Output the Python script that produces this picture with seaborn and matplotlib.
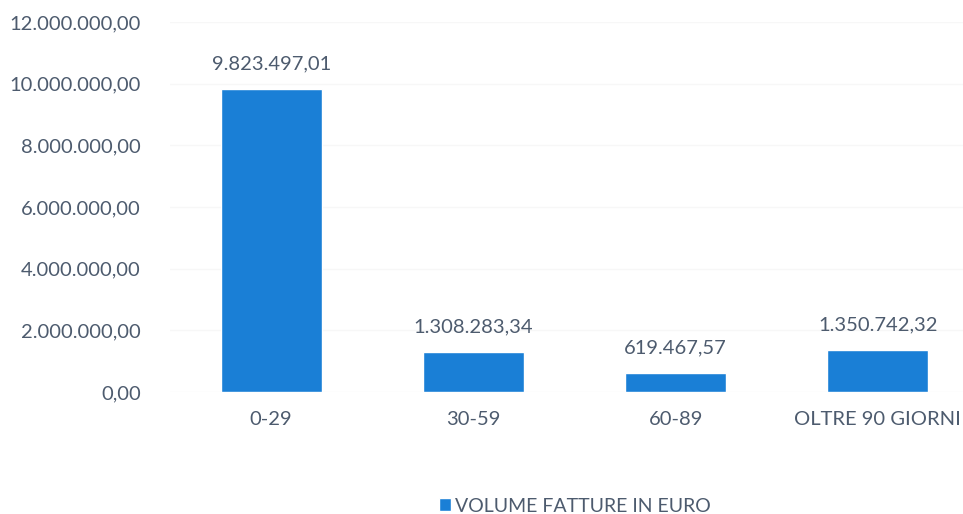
import matplotlib
matplotlib.use("Agg")
import matplotlib.pyplot as plt
import seaborn as sns
import pandas as pd
from matplotlib.ticker import FuncFormatter
from matplotlib.patches import Patch

# ===============================
# DATA
# ===============================
categories = ["0-29", "30-59", "60-89", "OLTRE 90 GIORNI"]
volumes = [9823497.01, 1308283.34, 619467.57, 1350742.32]
series_name = "VOLUME FATTURE IN EURO"
y_ticks = [0, 2000000, 4000000, 6000000, 8000000, 10000000, 12000000]

df = pd.DataFrame({"fascia": categories, "volume": volumes})


def it_fmt(v, pos=None):
    # italian number format: 1.234.567,89
    s = f"{v:,.2f}"
    return s.replace(",", "X").replace(".", ",").replace("X", ".")


# ===============================
# PLOT
# ===============================
sns.set_style("white")
plt.rcParams["font.family"] = ["Lato", "DejaVu Sans"]

text_col = "#4d5b6e"
bar_col = "#1a7fd6"

fig = plt.figure(figsize=(9.63, 5.14), dpi=100)
ax = fig.add_axes([170 / 963, 1 - 392 / 514, (979 - 170) / 963, 370 / 514])

sns.barplot(data=df, x="fascia", y="volume", color=bar_col, width=0.5,
            saturation=1, ax=ax)

ax.set_ylim(0, 12000000)
ax.set_xlim(-0.5, 3.5)
ax.set_yticks(y_ticks)
ax.yaxis.set_major_formatter(FuncFormatter(it_fmt))
ax.grid(axis="y", color="#f7f7f7", linewidth=1)
ax.set_axisbelow(True)
ax.set_xlabel("")
ax.set_ylabel("")
sns.despine(ax=ax, left=True, bottom=True)
ax.tick_params(axis="both", length=0, labelsize=14.5, labelcolor=text_col)
ax.tick_params(axis="y", pad=21)
ax.tick_params(axis="x", pad=14)

# value labels
for i, v in enumerate(volumes):
    ax.annotate(it_fmt(v), (i, v), xytext=(0, 12), textcoords="offset points",
                ha="center", va="bottom", fontsize=14.5, color=text_col)

# legend
handle = Patch(facecolor=bar_col, label=series_name)
fig.legend(handles=[handle], loc="center", bbox_to_anchor=(575 / 963, 1 - 506 / 514),
           frameon=False, fontsize=14, labelcolor=text_col,
           handlelength=0.6, handleheight=0.6, handletextpad=0.2)

fig.savefig("out.png", dpi=100)
